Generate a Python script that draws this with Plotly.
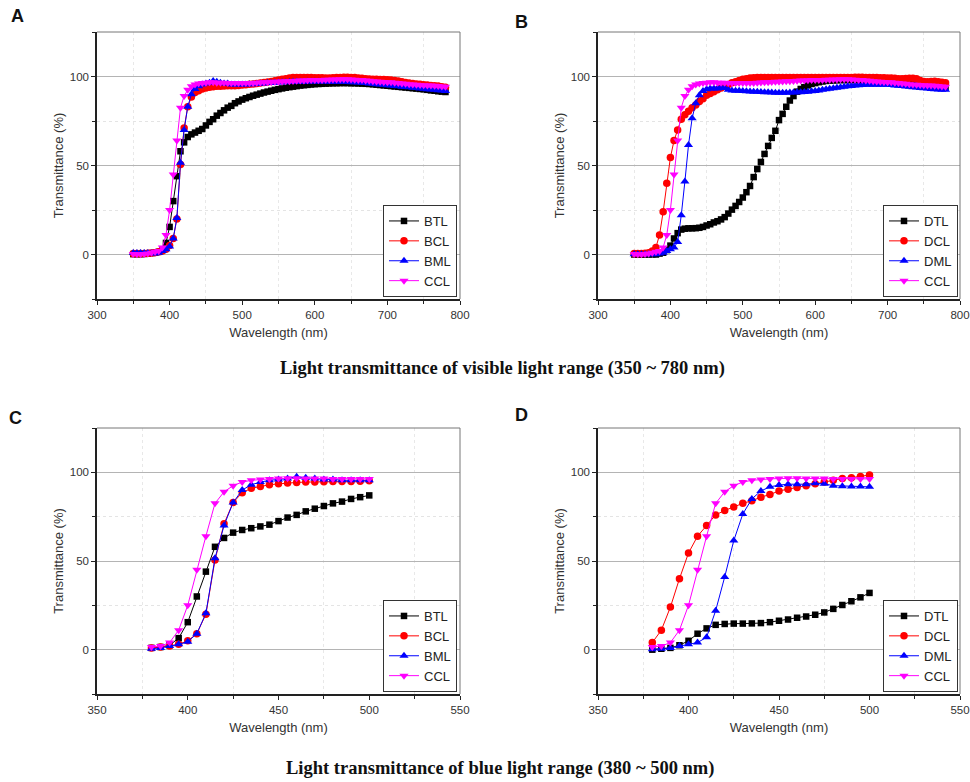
import plotly.graph_objects as go

# ---------------- data ----------------
WL_VIS = list(range(350, 785, 5))      # 350 ~ 780 nm
WL_BLUE = list(range(380, 505, 5))     # 380 ~ 500 nm

# blue light range (380-500 nm), panels C / D
BTL_BLUE = [1, 1.5, 2.5, 6.5, 15.5, 30, 44, 58, 63, 66, 67.5, 68.5, 69.5, 70.5, 72.5,
            74.5, 76, 78, 79.5, 81, 82.5, 83.5, 85, 86, 87]
BCL_BLUE = [1, 1.5, 2, 3, 5, 9, 20, 50.5, 71, 83, 88.5, 91, 92, 93, 93.5,
            94, 94.3, 94.5, 94.5, 94.7, 94.8, 94.8, 94.8, 95, 95.2]
BML_BLUE = [0.5, 1, 2, 3, 4.5, 9, 20.5, 51.5, 70, 83, 90, 93, 94.5, 95.5, 96,
            96.5, 97.5, 97, 96.5, 96, 96, 95.5, 95.5, 95.5, 95.5]
CCL_BLUE = [1.5, 2, 4, 11, 25, 45, 64, 82.5, 89, 92.5, 94.5, 95.5, 96, 96.3, 96.5,
            96.7, 96.7, 96.5, 96.5, 96.5, 96.3, 96.3, 96.3, 96.3, 96.3]
DTL_BLUE = [0, 0.5, 1, 2.5, 5, 9, 12, 14, 14.5, 14.7, 14.7, 14.8, 15, 15.5, 16.3,
            17, 18, 18.7, 19.7, 21, 23, 25.2, 27.3, 29.5, 32]
DCL_BLUE = [4, 11, 24, 40, 54.5, 64, 70, 76, 78.5, 80.5, 82.5, 84, 86, 87.5, 89.5,
            90.5, 91.5, 92.5, 93.5, 94.5, 95.5, 96.5, 97, 97.7, 98.5]
DML_BLUE = [0.2, 0.5, 1, 2, 3, 4, 7, 22, 41, 61.5, 76.5, 85, 89.5, 91.8, 92.8,
            93.3, 93.3, 93.3, 93.8, 93.5, 92.5, 92.2, 92, 92, 91.8]

# visible range: 350-375 nm part
BTL_LOW = [0.2, 0.2, 0.2, 0.3, 0.5, 0.8]
BCL_LOW = [0.5, 0.5, 0.5, 0.6, 0.7, 0.8]
BML_LOW = [0.9, 0.9, 0.9, 0.8, 0.8, 0.7]
CCL_LOW = [0.3, 0.2, 0.2, 0.3, 0.6, 1.0]
DTL_LOW = [0, 0, 0, 0, 0, 0.1]
DCL_LOW = [0.5, 0.5, 0.5, 0.7, 1, 2]
DML_LOW = [0.2, 0.2, 0.2, 0.2, 0.2, 0.2]

# visible range: 505-780 nm part
BTL_HIGH = [87.8, 88.5, 89.2, 89.8, 90.4, 91, 91.5, 92, 92.5, 92.9,
            93.3, 93.7, 94, 94.3, 94.6, 94.9, 95.1, 95.3, 95.5, 95.7,
            95.8, 95.9, 96, 96.1, 96.2, 96.2, 96.3, 96.3, 96.3, 96.2,
            96.2, 96.1, 96, 95.9, 95.8, 95.6, 95.4, 95.2, 95, 94.8,
            94.6, 94.4, 94.2, 94, 93.8, 93.6, 93.4, 93.2, 93, 92.8,
            92.5, 92.2, 92, 91.7, 91.5, 91.3]
BCL_HIGH = [95.4, 95.6, 95.8, 96, 96.3, 96.6, 96.9, 97.2, 97.6, 98,
            98.4, 98.8, 99.2, 99.4, 99.5, 99.5, 99.5, 99.4, 99.4, 99.3,
            99.3, 99.3, 99.2, 99.2, 99.3, 99.4, 99.5, 99.6, 99.6, 99.5,
            99.4, 99.2, 99, 98.8, 98.6, 98.5, 98.4, 98.3, 98.3, 98.2,
            98, 97.8, 97.5, 97, 96.6, 96.3, 96, 95.8, 95.6, 95.4,
            95.2, 95, 94.8, 94.6, 94.3, 94]
BML_HIGH = [95.5, 95.6, 95.7, 95.8, 96, 96.1, 96.3, 96.4, 96.5, 96.6,
            96.7, 96.8, 96.9, 97, 97, 97.1, 97.1, 97.2, 97.2, 97.2,
            97.2, 97.2, 97.2, 97.1, 97.1, 97, 97, 97, 96.9, 96.8,
            96.7, 96.6, 96.5, 96.3, 96.1, 95.9, 95.7, 95.5, 95.3, 95.1,
            94.9, 94.7, 94.5, 94.3, 94.1, 93.9, 93.7, 93.5, 93.3, 93.1,
            92.9, 92.7, 92.5, 92.3, 92.1, 91.9]
CCL_HIGH = [96.3, 96.3, 96.4, 96.5, 96.6, 96.7, 96.8, 96.9, 97, 97.1,
            97.2, 97.3, 97.4, 97.5, 97.6, 97.7, 97.8, 97.9, 98, 98,
            98.1, 98.1, 98.2, 98.2, 98.3, 98.3, 98.4, 98.4, 98.4, 98.3,
            98.2, 98.1, 98, 97.8, 97.6, 97.4, 97.2, 97, 96.9, 96.8,
            96.7, 96.5, 96.3, 96.1, 95.9, 95.7, 95.5, 95.3, 95.2, 95.1,
            95, 94.9, 94.8, 94.6, 94.4, 94.2]
DTL_HIGH = [35, 38.5, 43.5, 48, 52, 56.5, 61, 65.5, 69.5, 75.5,
            79, 83, 86.5, 89, 91.5, 93, 94, 95, 95.8, 96.3,
            96.8, 97.2, 97.5, 97.7, 97.8, 97.9, 98, 98, 98, 98,
            98, 97.9, 97.8, 97.7, 97.6, 97.5, 97.4, 97.3, 97.2, 97.1,
            97, 96.9, 96.8, 96.6, 96.4, 96.2, 96, 95.8, 95.6, 95.4,
            95.2, 95, 94.8, 94.6, 94.4, 94.2]
DCL_HIGH = [98.8, 99.1, 99.3, 99.4, 99.5, 99.5, 99.5, 99.5, 99.5, 99.5,
            99.5, 99.5, 99.5, 99.5, 99.5, 99.5, 99.5, 99.5, 99.5, 99.5,
            99.5, 99.5, 99.5, 99.5, 99.5, 99.5, 99.5, 99.5, 99.5, 99.5,
            99.6, 99.6, 99.6, 99.5, 99.5, 99.4, 99.4, 99.3, 99.3, 99.2,
            99.1, 99, 98.8, 98.8, 98.9, 99, 99, 98.8, 97.8, 97.2,
            97, 97.2, 97.3, 97, 96.8, 96.5]
DML_HIGH = [91.7, 91.6, 91.5, 91.4, 91.3, 91.2, 91.1, 91, 90.9, 90.9,
            90.9, 90.9, 91, 91, 91.1, 91.2, 91.3, 91.5, 91.7, 91.9,
            92.2, 92.5, 92.8, 93.1, 93.4, 93.7, 94, 94.3, 94.5, 94.7,
            94.9, 95.1, 95.2, 95.3, 95.4, 95.4, 95.4, 95.4, 95.3, 95.3,
            95.2, 95, 94.8, 94.6, 94.4, 94.2, 94, 93.8, 93.6, 93.4,
            93.2, 93, 92.8, 92.7, 92.6, 92.5]

BTL_VIS = BTL_LOW + BTL_BLUE + BTL_HIGH
BCL_VIS = BCL_LOW + BCL_BLUE + BCL_HIGH
BML_VIS = BML_LOW + BML_BLUE + BML_HIGH
CCL_VIS = CCL_LOW + CCL_BLUE + CCL_HIGH
DTL_VIS = DTL_LOW + DTL_BLUE + DTL_HIGH
DCL_VIS = DCL_LOW + DCL_BLUE + DCL_HIGH
DML_VIS = DML_LOW + DML_BLUE + DML_HIGH

CAPTION_1 = "Light transmittance of visible light range (350 ~ 780 nm)"
CAPTION_2 = "Light transmittance of blue light range (380 ~ 500 nm)"

# ---------------- figure ----------------
W, H = 970, 782
SANS = "Liberation Sans, Arial, sans-serif"
SERIF = "Liberation Serif, Cambria, serif"

def px(x):
    return x / W

def py(y):
    return 1 - y / H

STYLES = [("#000000", "square", 6.5), ("#FF0000", "circle", 7.5),
          ("#0000FF", "triangle-up", 8), ("#FF00FF", "triangle-down", 8)]

panels = [
    dict(letter="A", lpos=(17, 16), x=WL_VIS, xr=[300, 800], dt=100,
         series=[("BTL", BTL_VIS), ("BCL", BCL_VIS), ("BML", BML_VIS), ("CCL", CCL_VIS)],
         dx=(97, 460), dy=(32, 299), leg=(457, 297)),
    dict(letter="B", lpos=(521, 22), x=WL_VIS, xr=[300, 800], dt=100,
         series=[("DTL", DTL_VIS), ("DCL", DCL_VIS), ("DML", DML_VIS), ("CCL", CCL_VIS)],
         dx=(598, 960), dy=(32, 299), leg=(958, 297)),
    dict(letter="C", lpos=(15, 418), x=WL_BLUE, xr=[350, 550], dt=50,
         series=[("BTL", BTL_BLUE), ("BCL", BCL_BLUE), ("BML", BML_BLUE), ("CCL", CCL_BLUE)],
         dx=(97, 460), dy=(428, 694), leg=(457, 692)),
    dict(letter="D", lpos=(521, 415), x=WL_BLUE, xr=[350, 550], dt=50,
         series=[("DTL", DTL_BLUE), ("DCL", DCL_BLUE), ("DML", DML_BLUE), ("CCL", CCL_BLUE)],
         dx=(598, 960), dy=(428, 694), leg=(958, 692)),
]

fig = go.Figure()
layout = dict(width=W, height=H, margin=dict(l=0, r=0, t=0, b=0),
              paper_bgcolor="white", plot_bgcolor="white", showlegend=True,
              font=dict(family=SANS, color="#222"))
shapes, annotations = [], []

for i, p in enumerate(panels):
    n = i + 1
    sfx = "" if n == 1 else str(n)
    xa, ya = "x" + sfx, "y" + sfx
    lg = "legend" + sfx
    for (name, vals), (col, sym, sz) in zip(p["series"], STYLES):
        fig.add_trace(go.Scatter(
            x=p["x"], y=vals, name=name, mode="lines+markers",
            line=dict(color=col, width=1),
            marker=dict(symbol=sym, size=sz, color=col, line=dict(width=0)),
            xaxis=xa, yaxis=ya, legend=lg))
    layout["xaxis" + sfx] = dict(
        domain=[px(p["dx"][0]), px(p["dx"][1])], range=p["xr"], anchor=ya,
        tickmode="linear", tick0=p["xr"][0], dtick=p["dt"],
        ticks="outside", ticklen=4, tickcolor="#222", tickwidth=1,
        showline=True, linecolor="#222", linewidth=1.5, mirror=False,
        showgrid=False, zeroline=False,
        minor=dict(dtick=p["dt"] / 2, tick0=p["xr"][0], ticks="outside", ticklen=3,
                   tickcolor="#222", showgrid=True, gridcolor="#e8e8e8",
                   griddash="dot", gridwidth=1),
        tickfont=dict(size=11.5, color="#333", family=SANS),
        title=dict(text="Wavelength (nm)", font=dict(size=13, color="#333", family=SANS),
                   standoff=8),
        automargin=False)
    layout["yaxis" + sfx] = dict(
        domain=[py(p["dy"][1]), py(p["dy"][0])], range=[-25, 125], anchor=xa,
        tickmode="linear", tick0=0, dtick=50,
        ticks="outside", ticklen=4, tickcolor="#222", tickwidth=1,
        showline=True, linecolor="#222", linewidth=1.5, mirror=False,
        showgrid=True, gridcolor="#b4b4b4", gridwidth=1, zeroline=False,
        minor=dict(dtick=25, tick0=0, ticks="outside", ticklen=3, tickcolor="#222",
                   showgrid=True, gridcolor="#e4e4e4", griddash="dot", gridwidth=1),
        tickfont=dict(size=11.5, color="#333", family=SANS),
        title=dict(text="Transmittance (%)", font=dict(size=13, color="#333", family=SANS),
                   standoff=3),
        automargin=False)
    layout[lg] = dict(
        x=px(p["leg"][0]), y=py(p["leg"][1]), xanchor="right", yanchor="bottom",
        bgcolor="white", bordercolor="#333", borderwidth=1,
        font=dict(size=13, color="#222", family=SANS), itemwidth=30,
        tracegroupgap=0)
    # top / right frame lines (lighter)
    shapes.append(dict(type="line", xref=xa + " domain", yref=ya + " domain",
                       x0=0, x1=1, y0=1, y1=1, line=dict(color="#777", width=1)))
    shapes.append(dict(type="line", xref=xa + " domain", yref=ya + " domain",
                       x0=1, x1=1, y0=0, y1=1, line=dict(color="#777", width=1)))
    annotations.append(dict(text="<b>%s</b>" % p["letter"], xref="paper", yref="paper",
                            x=px(p["lpos"][0]), y=py(p["lpos"][1]),
                            xanchor="center", yanchor="middle", showarrow=False,
                            font=dict(size=18, color="#111", family=SANS)))

annotations.append(dict(text="<b>%s</b>" % CAPTION_1, xref="paper", yref="paper",
                        x=px(502), y=py(368), xanchor="center", yanchor="middle",
                        showarrow=False, font=dict(size=18.5, color="#111", family=SERIF)))
annotations.append(dict(text="<b>%s</b>" % CAPTION_2, xref="paper", yref="paper",
                        x=px(500), y=py(768), xanchor="center", yanchor="middle",
                        showarrow=False, font=dict(size=18.5, color="#111", family=SERIF)))

layout["shapes"] = shapes
layout["annotations"] = annotations
fig.update_layout(**layout)
fig.write_html("out.html")
